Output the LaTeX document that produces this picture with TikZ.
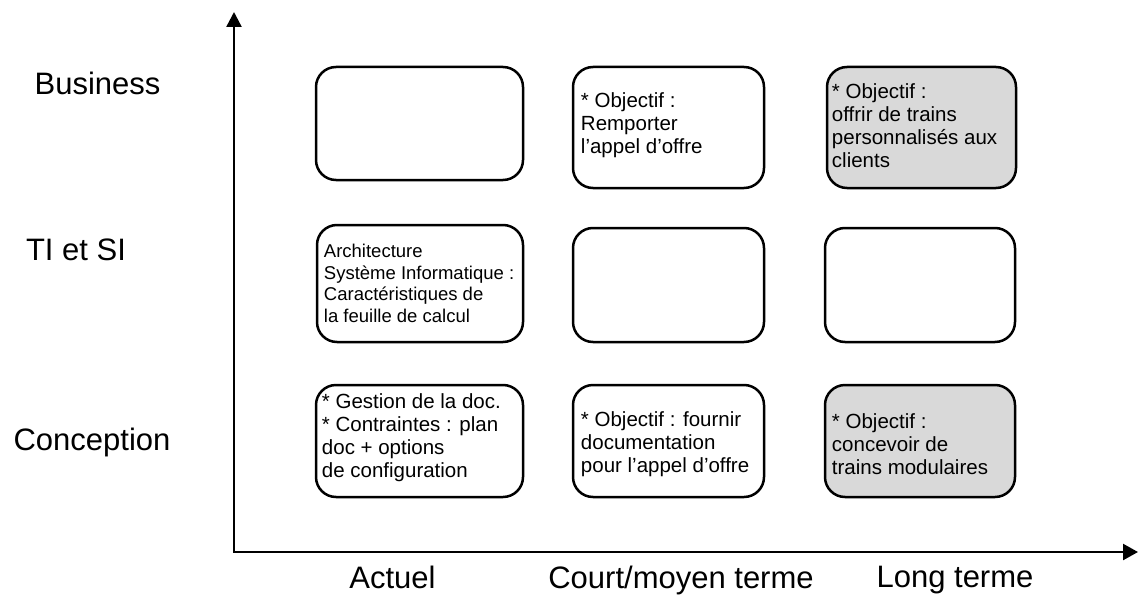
\documentclass[tikz,border=0pt]{standalone}
\usepackage{fontspec}
\setmainfont{Liberation Sans}
\usetikzlibrary{arrows.meta}
\definecolor{boxgray}{RGB}{217,217,217}
\tikzset{
  cell/.style={draw=black, line width=2.5pt, rounded corners=20pt, fill=white, inner sep=0pt},
  shadedcell/.style={cell, fill=boxgray},
  celltext/.style={anchor=west, align=left, inner sep=0pt, font=\fontsize{20.5}{23}\selectfont},
  smallcelltext/.style={celltext, font=\fontsize{18.5}{21.5}\selectfont},
  axisline/.style={line width=2.4pt, line join=miter,
    {Triangle[length=15pt,width=15pt]}-{Triangle[length=15pt,width=16pt]}},
  axislabel/.style={font=\fontsize{31}{36}\selectfont, inner sep=0pt, anchor=base},
}
\begin{document}
\begin{tikzpicture}[x=1pt,y=-1pt]
  \useasboundingbox (0,0) rectangle (1139,599);

  % axes
  \coordinate (ytip) at (234,12);
  \coordinate (origin) at (234,552);
  \coordinate (xtip) at (1138,552);
  \draw[axisline] (ytip) -- (origin) -- (xtip);

  % row labels
  \node[axislabel] (business) at (97.5,95) {Business};
  \node[axislabel] (tisi) at (76,260) {TI et SI};
  \node[axislabel] (conception) at (92,450) {Conception};

  % column labels
  \node[axislabel] (actuel) at (392.5,588) {Actuel};
  \node[axislabel] (court) at (681,588) {Court/moyen terme};
  \node[axislabel] (long) at (955,587) {Long terme};

  % Business row
  \node[cell, minimum width=207pt, minimum height=113pt] (b11) at (419.5,123.5) {};
  \node[cell, minimum width=191pt, minimum height=121pt] (b12) at (668.5,127.5) {};
  \node[shadedcell, minimum width=189pt, minimum height=121pt] (b13) at (921.5,127.5) {};

  % TI et SI row
  \node[cell, minimum width=206pt, minimum height=117pt] (b21) at (420,283.5) {};
  \node[cell, minimum width=191pt, minimum height=114pt] (b22) at (668.5,285) {};
  \node[cell, minimum width=190pt, minimum height=114pt] (b23) at (920,285) {};

  % Conception row
  \node[cell, minimum width=207pt, minimum height=112pt] (b31) at (419.5,441) {};
  \node[cell, minimum width=191pt, minimum height=112pt] (b32) at (668.5,441) {};
  \node[shadedcell, minimum width=190pt, minimum height=112pt] (b33) at (920,441) {};

  % box texts
  \node[celltext] (t12) at ([xshift=9pt,yshift=2pt]b12.west)
    {* Objectif :\\Remporter\\l'appel d'offre};
  \node[celltext] (t13) at ([xshift=6pt,yshift=2pt]b13.west)
    {* Objectif :\\offrir de trains\\personnalisés aux\\clients};
  \node[smallcelltext] (t21) at ([xshift=8pt]b21.west)
    {Architecture\\Système Informatique~:\\Caractéristiques de\\la feuille de calcul};
  \node[celltext] (t31) at ([xshift=7pt,yshift=3pt]b31.west)
    {* Gestion de la doc.\\* Contraintes : plan\\doc + options\\de configuration};
  \node[celltext] (t32) at ([xshift=9pt,yshift=-3pt]b32.west)
    {* Objectif : fournir\\documentation\\pour l'appel d'offre};
  \node[celltext] (t33) at ([xshift=8pt,yshift=-3pt]b33.west)
    {* Objectif :\\concevoir de\\trains modulaires};
\end{tikzpicture}
\end{document}
